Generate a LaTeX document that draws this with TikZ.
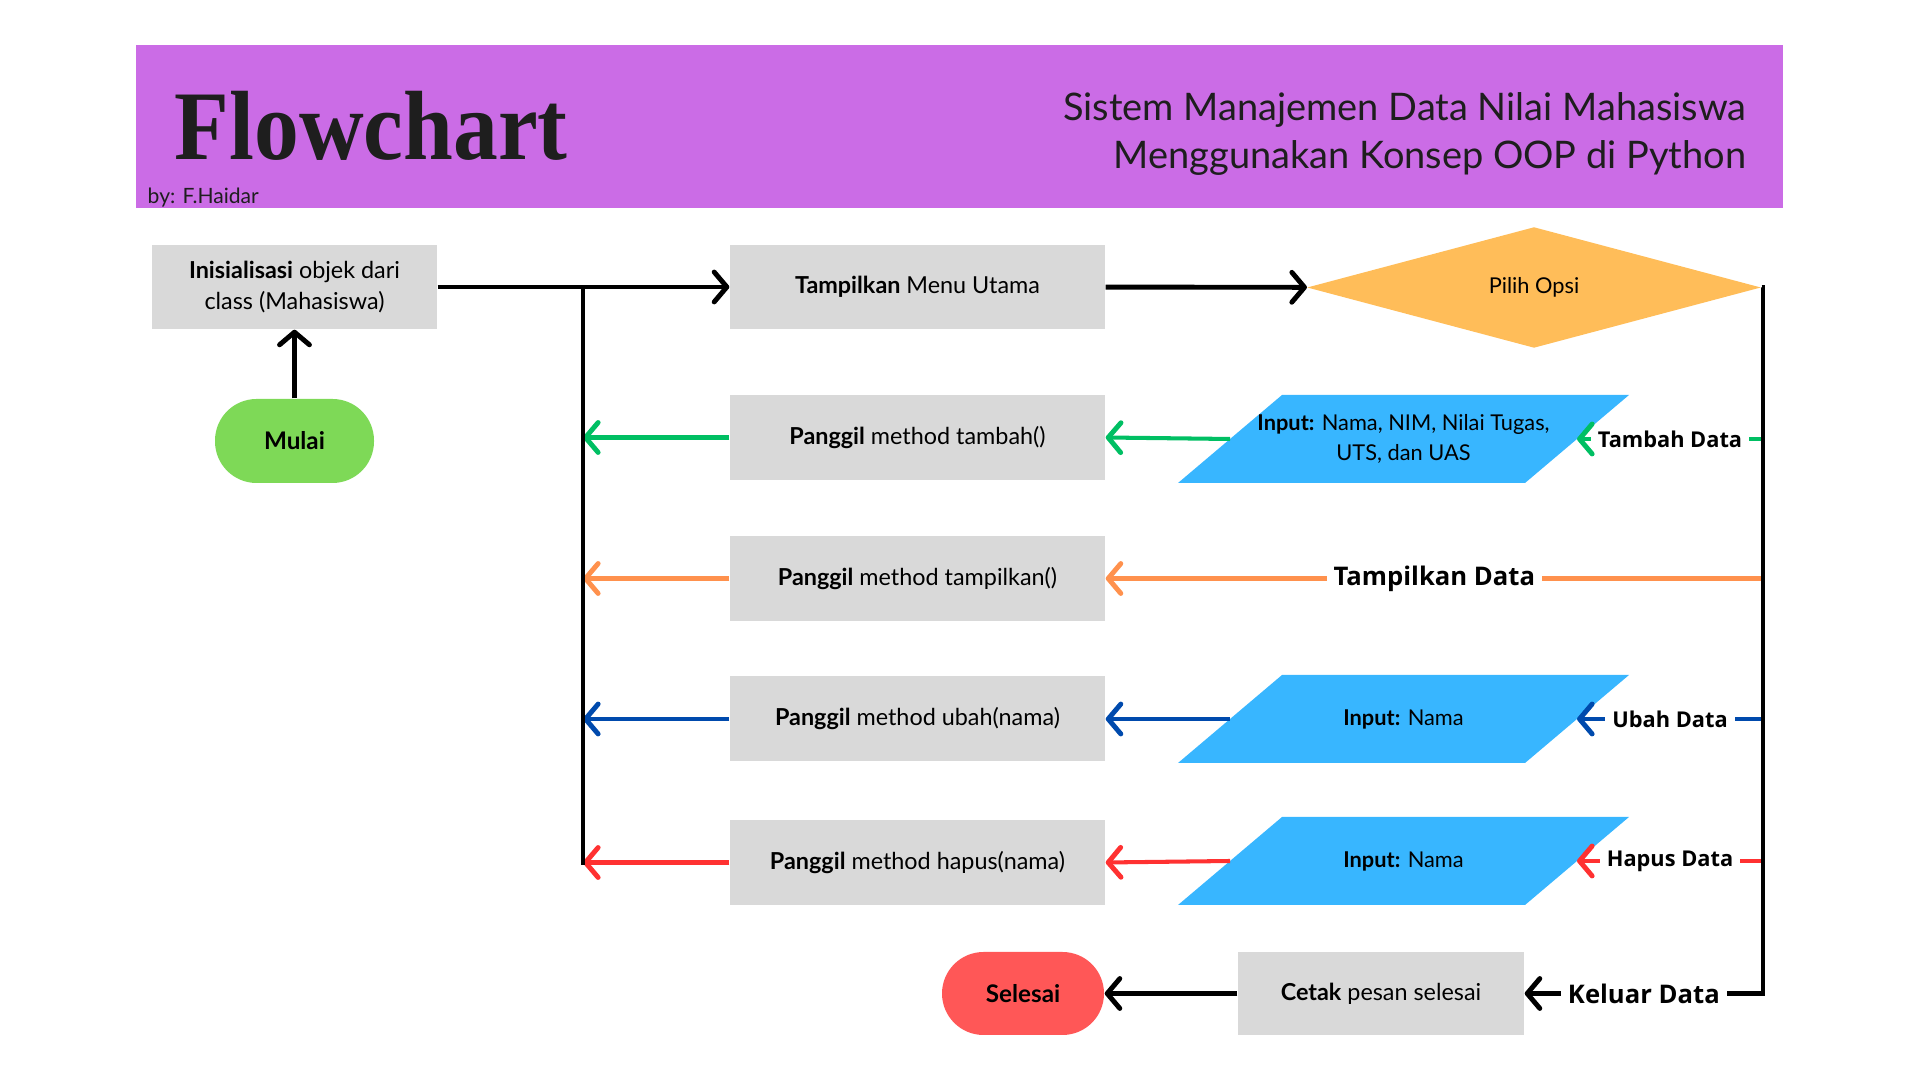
\documentclass[tikz,border=0pt]{standalone}
\usepackage{fontspec}
\setmainfont{Lato}
\newfontfamily\labelfont{Open Sans}
\newfontfamily\titlefont{Liberation Serif}
\usetikzlibrary{arrows.meta, shapes.geometric}
\definecolor{banner}{HTML}{CB6CE6}
\definecolor{ink}{HTML}{1E1E1E}
\definecolor{boxgray}{HTML}{D9D9D9}
\definecolor{inblue}{HTML}{38B6FF}
\definecolor{optorange}{HTML}{FFBD59}
\definecolor{startgreen}{HTML}{7ED957}
\definecolor{endred}{HTML}{FF5757}
\definecolor{lgreen}{HTML}{00BF63}
\definecolor{lorange}{HTML}{FF914D}
\definecolor{lblue}{HTML}{004AAD}
\definecolor{lred}{HTML}{FF3131}

\begin{document}
\begin{tikzpicture}[
    every node/.style={font=\fontsize{6.2}{8.5}\selectfont, text=black},
    box/.style={rectangle, fill=boxgray, minimum width=3.75cm, minimum height=0.85cm,
                inner sep=1pt, align=center, font=\fontsize{6.65}{8.6}\selectfont},
    term/.style={rectangle, rounded corners=0.415cm, minimum width=1.6cm,
                 minimum height=0.83cm, font=\fontsize{6.9}{8}\selectfont\bfseries},
    choice/.style={diamond, fill=optorange, minimum width=4.54cm, minimum height=1.21cm,
                   inner sep=0pt},
    io/.style={inner sep=0pt, align=center},
    wire/.style={line width=1.4pt},
    link/.style={line width=1.4pt, -{Straight Barb[length=3.6pt, width=8.5pt, round]}},
    clink/.style={line width=1.15pt, -{Straight Barb[length=3.6pt, width=8.5pt, round, line width=1.4pt]}},
    elab/.style={fill=white, inner xsep=2pt, inner ysep=0pt,
                 font=\labelfont\bfseries\fontsize{6.2}{7}\selectfont},
    ebig/.style={font=\labelfont\bfseries\fontsize{7.3}{8}\selectfont},
]
\useasboundingbox (0, 0) rectangle (19.2, 10.8);

% ---------------------------------------------------------------- header
\fill[banner] (1.36, 8.72) rectangle (17.83, 10.35);
\node[anchor=base west, inner sep=0, text=ink, font=\titlefont\bfseries\fontsize{28}{30}\selectfont]
    (title) at (1.74, 9.20) {\scalebox{0.91}[1]{Flowchart}};
\node[anchor=base west, inner sep=0, text=ink, font=\fontsize{6}{7}\selectfont]
    (author) at (1.47, 8.76) {by: F.Haidar};
\node[anchor=east, inner sep=0, align=right, text=ink, font=\fontsize{10.8}{13.4}\selectfont]
    (subtitle) at (17.47, 9.46) {Sistem Manajemen Data Nilai Mahasiswa\\Menggunakan Konsep OOP di Python};

% ---------------------------------------------------------------- start
\node[box, minimum width=2.85cm, minimum height=0.84cm] (init) at (2.945, 7.93)
    {\textbf{Inisialisasi} objek dari\\class (Mahasiswa)};
\node[term, fill=startgreen, minimum width=1.59cm, minimum height=0.84cm] (mulai) at (2.945, 6.39) {Mulai};
\node[box, minimum height=0.84cm] (menu) at (9.175, 7.93) {\textbf{Tampilkan} Menu Utama};
\node[choice] (pilih) at (15.34, 7.925) {Pilih Opsi};

\draw[link] (mulai) -- (init);
\draw[link] (init.east) -- (menu.west);
\draw[link] (menu) -- (pilih);

% ---------------------------------------------------------------- the inputs
\foreach \n/\y in {1/6.41, 3/3.61, 4/2.19}{
    \fill[inblue] (11.78, {\y-0.44}) -- (15.25, {\y-0.44}) -- (16.29, {\y+0.44})
        -- (12.82, {\y+0.44}) -- cycle;
    \coordinate (in\n w) at (12.30, \y);
    \coordinate (in\n e) at (15.77, \y);
}
\node[io] (in1) at (14.035, 6.41) {\textbf{Input:} Nama, NIM, Nilai Tugas,\\UTS, dan UAS};
\node[io] (in3) at (14.035, 3.61) {\textbf{Input:} Nama};
\node[io] (in4) at (14.035, 2.19) {\textbf{Input:} Nama};

% ---------------------------------------------------------------- the methods
\coordinate (bus) at (5.83, 7.93);
\coordinate (busend) at (5.83, 2.15);
\coordinate (rbus) at (17.63, 7.925);
\foreach \i/\y/\c/\m in {1/6.425/lgreen/tambah(), 2/5.015/lorange/tampilkan(),
                         3/3.61/lblue/ubah(nama), 4/2.175/lred/hapus(nama)}{
    \node[box] (p\i) at (9.175, \y) {\textbf{Panggil} method \m};
    \draw[clink, \c] (p\i.west) -- (p\i.west -| bus);
}
\draw[wire] (bus) -- (busend);

\draw[clink, lgreen] (rbus |- in1e) -- node[elab] {Tambah Data} (in1e);
\draw[clink, lgreen] (in1w) -- (p1.east);
\draw[clink, lorange] (rbus |- p2) -- node[elab, ebig] {Tampilkan Data} (p2.east);
\draw[clink, lblue] (rbus |- in3e) -- node[elab] {Ubah Data} (in3e);
\draw[clink, lblue] (in3w) -- (p3.east);
\draw[clink, lred] (rbus |- in4e) -- node[elab] {Hapus Data} (in4e);
\draw[clink, lred] (in4w) -- (p4.east);

% ---------------------------------------------------------------- end
\node[box, minimum width=2.86cm, minimum height=0.83cm] (cetak) at (13.81, 0.865)
    {\textbf{Cetak} pesan selesai};
\node[term, fill=endred, minimum width=1.62cm] (selesai) at (10.23, 0.865) {Selesai};

\draw[link] (pilih.east) -- (rbus) |- node[elab, ebig, pos=0.75] {Keluar Data} (cetak.east);
\draw[link] (cetak) -- (selesai);
\end{tikzpicture}
\end{document}
